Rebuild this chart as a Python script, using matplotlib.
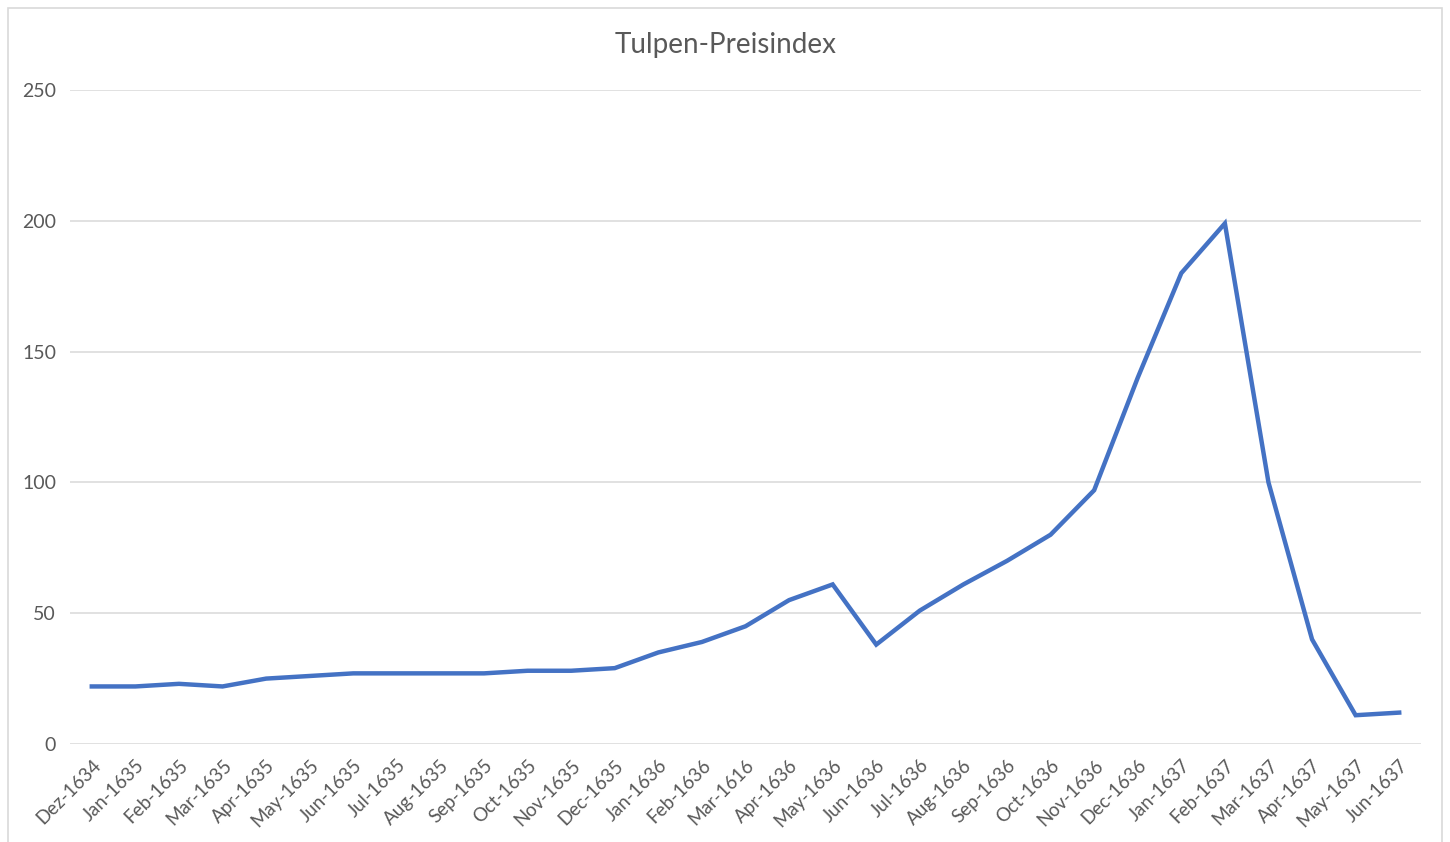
import matplotlib.pyplot as plt
from matplotlib.patches import Rectangle

# ── Data ─────────────────────────────────────────────
months = ['Dez-1634',
          'Jan-1635', 'Feb-1635', 'Mar-1635', 'Apr-1635', 'May-1635', 'Jun-1635',
          'Jul-1635', 'Aug-1635', 'Sep-1635', 'Oct-1635', 'Nov-1635', 'Dec-1635',
          'Jan-1636', 'Feb-1636', 'Mar-1616', 'Apr-1636', 'May-1636', 'Jun-1636',
          'Jul-1636', 'Aug-1636', 'Sep-1636', 'Oct-1636', 'Nov-1636', 'Dec-1636',
          'Jan-1637', 'Feb-1637', 'Mar-1637', 'Apr-1637', 'May-1637', 'Jun-1637']
index_values = [22,
                22, 23, 22, 25, 26, 27,
                27, 27, 27, 28, 28, 29,
                35, 39, 45, 55, 61, 38,
                51, 61, 70, 80, 97, 140,
                180, 199, 100, 40, 11, 12]
y_ticks = [0, 50, 100, 150, 200, 250]

TEXT = '#595959'
GRID = '#d9d9d9'
LINE = '#4472C4'

plt.rcParams['font.family'] = ['Lato', 'DejaVu Sans']

fig = plt.figure(figsize=(14.5, 8.42), dpi=100)
ax = fig.add_axes([70 / 1450, 1 - 744 / 842, (1421 - 70) / 1450, (744 - 90) / 842])

# chart frame
fig.patches.append(Rectangle((8 / 1450, -0.01), (1442 - 8) / 1450, 1 - 8 / 842 + 0.01,
                             transform=fig.transFigure, fill=False,
                             edgecolor=GRID, linewidth=1.2))

x = list(range(len(months)))
ax.plot(x, index_values, color=LINE, linewidth=3.2, solid_joinstyle='miter')

ax.set_xlim(-0.5, len(months) - 0.5)
ax.set_ylim(0, 250)
ax.set_yticks(y_ticks)
ax.grid(axis='y', color=GRID, linewidth=1.1)
ax.set_axisbelow(True)
for s in ax.spines.values():
    s.set_visible(False)

ax.set_xticks(x)
ax.set_xticklabels(months, rotation=45, ha='right', va='top', rotation_mode='anchor',
                   fontsize=13.5, color=TEXT)
ax.tick_params(axis='x', length=0, pad=9)
ax.tick_params(axis='y', length=0, pad=10, labelsize=14, labelcolor=TEXT)

fig.text(726 / 1450, 1 - 45 / 842, 'Tulpen-Preisindex', ha='center', va='center',
         fontsize=20, color=TEXT)

plt.savefig('out.png', dpi=100)
